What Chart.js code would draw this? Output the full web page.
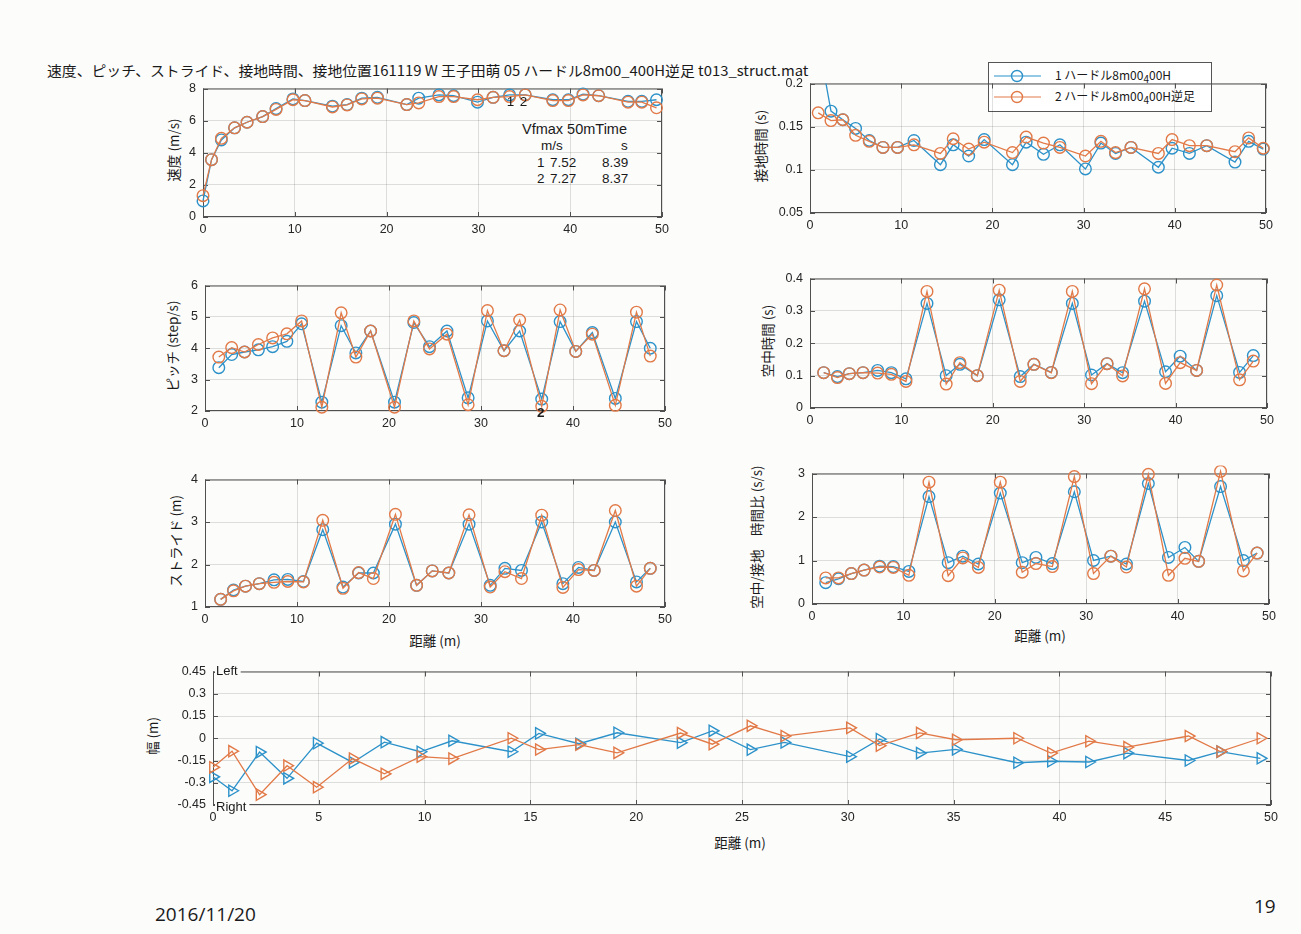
<!DOCTYPE html>
<html>
<head>
<meta charset="utf-8">
<script src="https://cdn.jsdelivr.net/npm/chart.js@4.4.1/dist/chart.umd.min.js"></script>
<style>
  html, body { margin: 0; padding: 0; background: #fcfcfb; }
  body { width: 1301px; height: 934px; position: relative; overflow: hidden;
         font-family: "Noto Sans CJK JP", "Noto Sans", sans-serif; color: #1a1a1a; }
  canvas { position: absolute; }
  .t { position: absolute; white-space: nowrap; }
  .yt { position: absolute; white-space: nowrap; font-size: 13.5px; transform: translate(-50%, -50%) rotate(-90deg); }
  .xt { position: absolute; white-space: nowrap; font-size: 13.5px; transform: translate(-50%, -50%); }
  .num { font-family: "Liberation Sans", Arial, sans-serif; font-size: 13.5px; }
  #title { left: 47px; top: 60px; font-size: 14px; transform-origin: 0 50%; }
  #legend { position: absolute; left: 988px; top: 62px; width: 222px; height: 48px;
            background: #fff; border: 1px solid #555; font-size: 12px; }
  #legend .row { position: absolute; left: 66px; white-space: nowrap; }
</style>
</head>
<body>

<div id="title" class="t">速度、ピッチ、ストライド、接地時間、接地位置161119 W 王子田萌 05 ハードル8m00_400H逆足 t013_struct.mat</div>

<div id="legend">
  <svg width="64" height="48" style="position:absolute;left:0;top:0">
    <line x1="5" y1="13" x2="52" y2="13" stroke="#2d92c9" stroke-width="1.2"/>
    <circle cx="28" cy="13" r="5.5" fill="none" stroke="#2d92c9" stroke-width="1.4"/>
    <line x1="5" y1="34" x2="52" y2="34" stroke="#e27a48" stroke-width="1.2"/>
    <circle cx="28" cy="34" r="5.5" fill="none" stroke="#e27a48" stroke-width="1.4"/>
  </svg>
  <div class="row" style="top:3px">1 ハードル8m00<sub>4</sub>00H</div>
  <div class="row" style="top:24px">2 ハードル8m00<sub>4</sub>00H逆足</div>
</div>

<div class="t num" style="left:522px;top:121px;font-size:14.5px">Vfmax 50mTime</div>
<div class="t num" style="left:541px;top:138px">m/s</div>
<div class="t num" style="left:621px;top:138px">s</div>
<div class="t num" style="left:537px;top:155px">1</div>
<div class="t num" style="left:550px;top:155px">7.52</div>
<div class="t num" style="left:602px;top:155px">8.39</div>
<div class="t num" style="left:537px;top:171px">2</div>
<div class="t num" style="left:550px;top:171px">7.27</div>
<div class="t num" style="left:602px;top:171px">8.37</div>

<div class="yt" style="left:173px;top:150px">速度 (m/s)</div>
<div class="yt" style="left:760px;top:146px">接地時間 (s)</div>
<div class="yt" style="left:172px;top:346px">ピッチ (step/s)</div>
<div class="yt" style="left:767px;top:341px">空中時間 (s)</div>
<div class="yt" style="left:175px;top:541px">ストライド (m)</div>
<div class="yt" style="left:756px;top:537px">空中/接地　時間比 (s/s)</div>
<div class="yt" style="left:152px;top:736px">幅 (m)</div>
<div class="xt" style="left:435px;top:640px">距離 (m)</div>
<div class="xt" style="left:1040px;top:635px">距離 (m)</div>
<div class="xt" style="left:740px;top:842px">距離 (m)</div>

<div class="t" style="left:155px;top:901px;font-size:19px;font-family:'Open Sans',sans-serif">2016/11/20</div>
<div class="t" style="left:1254px;top:893px;font-size:19px;font-family:'Open Sans',sans-serif">19</div>

<script>
// ---------- data (distance in m) ----------
const xTicks10 = [0, 10, 20, 30, 40, 50];
const xTicks5 = [0, 5, 10, 15, 20, 25, 30, 35, 40, 45, 50];

// speed (m/s)
const spdX = [0.0, 0.93, 2.0, 3.44, 4.8, 6.5, 7.96, 9.8, 11.1, 14.1, 15.7, 17.3, 19.0, 22.2, 23.5, 25.7, 27.3, 29.9, 31.6, 33.4, 35.1, 38.1, 39.8, 41.4, 43.1, 46.3, 47.8, 49.4];
const spd1 = [1.0, 3.57, 4.8, 5.55, 5.9, 6.25, 6.75, 7.35, 7.25, 6.9, 7.0, 7.4, 7.45, 7.0, 7.4, 7.6, 7.55, 7.15, 7.45, 7.6, 7.6, 7.3, 7.3, 7.65, 7.55, 7.2, 7.2, 7.3];
const spd2 = [1.33, 3.57, 4.9, 5.55, 5.9, 6.25, 6.7, 7.3, 7.25, 6.85, 6.98, 7.35, 7.4, 7.0, 7.1, 7.5, 7.5, 7.3, 7.45, 7.5, 7.6, 7.25, 7.25, 7.6, 7.55, 7.15, 7.15, 6.8];
const vfMarkX = [33.5, 34.9];
const vfMarkY = [7.15, 7.15];

// contact time (s)
const ctX = [0.9, 2.3, 3.6, 5.0, 6.5, 8.0, 9.6, 11.4, 14.3, 15.7, 17.4, 19.1, 22.2, 23.7, 25.6, 27.4, 30.2, 31.9, 33.5, 35.2, 38.2, 39.7, 41.6, 43.5, 46.6, 48.1, 49.7];
const ct1 = [0.25, 0.168, 0.158, 0.148, 0.134, 0.126, 0.126, 0.134, 0.106, 0.129, 0.116, 0.135, 0.106, 0.132, 0.118, 0.129, 0.101, 0.131, 0.119, 0.126, 0.103, 0.125, 0.119, 0.128, 0.109, 0.133, 0.124];
const ct2 = [0.166, 0.157, 0.158, 0.14, 0.133, 0.126, 0.126, 0.129, 0.119, 0.136, 0.124, 0.132, 0.12, 0.138, 0.131, 0.126, 0.116, 0.133, 0.12, 0.126, 0.119, 0.135, 0.128, 0.128, 0.121, 0.137, 0.125];

// pitch (step/s)
const ptX = [1.5, 2.9, 4.3, 5.8, 7.35, 8.9, 10.5, 12.7, 14.8, 16.4, 18.0, 20.6, 22.7, 24.4, 26.3, 28.6, 30.7, 32.5, 34.2, 36.6, 38.6, 40.3, 42.1, 44.6, 46.9, 48.4];
const pt1 = [3.38, 3.8, 3.88, 3.95, 4.05, 4.22, 4.78, 2.28, 4.72, 3.85, 4.55, 2.28, 4.82, 4.05, 4.55, 2.42, 4.87, 3.92, 4.55, 2.38, 4.85, 3.9, 4.5, 2.4, 4.85, 4.0];
const pt2 = [3.72, 4.02, 3.88, 4.12, 4.33, 4.46, 4.87, 2.12, 5.13, 3.72, 4.55, 2.12, 4.87, 3.98, 4.45, 2.2, 5.2, 3.92, 4.9, 2.15, 5.22, 3.9, 4.45, 2.18, 5.15, 3.75];

// flight time (s)
const flX = [1.5, 3.0, 4.3, 5.8, 7.4, 8.9, 10.5, 12.8, 14.9, 16.4, 18.3, 20.7, 23.0, 24.5, 26.4, 28.7, 30.8, 32.5, 34.2, 36.6, 38.9, 40.5, 42.3, 44.5, 47.0, 48.5];
const fl1 = [0.109, 0.097, 0.106, 0.109, 0.116, 0.109, 0.09, 0.323, 0.1, 0.135, 0.1, 0.334, 0.097, 0.135, 0.11, 0.323, 0.102, 0.137, 0.109, 0.33, 0.112, 0.16, 0.116, 0.347, 0.11, 0.162];
const fl2 = [0.109, 0.094, 0.106, 0.109, 0.108, 0.104, 0.082, 0.36, 0.074, 0.14, 0.1, 0.364, 0.082, 0.135, 0.109, 0.36, 0.075, 0.137, 0.099, 0.368, 0.076, 0.14, 0.116, 0.38, 0.087, 0.145];

// stride (m)
const stX = [1.7, 3.1, 4.4, 5.9, 7.5, 9.0, 10.7, 12.8, 15.0, 16.7, 18.3, 20.7, 23.0, 24.7, 26.5, 28.7, 31.0, 32.6, 34.4, 36.6, 38.9, 40.6, 42.3, 44.6, 46.9, 48.4];
const st1 = [1.18, 1.4, 1.49, 1.55, 1.64, 1.65, 1.6, 2.82, 1.47, 1.8, 1.8, 2.95, 1.51, 1.85, 1.8, 2.95, 1.51, 1.91, 1.86, 3.0, 1.55, 1.93, 1.86, 3.0, 1.59, 1.91];
const st2 = [1.18, 1.38, 1.49, 1.55, 1.58, 1.6, 1.59, 3.04, 1.44, 1.81, 1.67, 3.18, 1.51, 1.85, 1.8, 3.17, 1.47, 1.83, 1.67, 3.16, 1.46, 1.88, 1.86, 3.27, 1.49, 1.91];

// flight / contact ratio (s/s)
const rtX = [1.5, 2.9, 4.3, 5.7, 7.4, 8.9, 10.6, 12.8, 14.9, 16.5, 18.2, 20.6, 23.0, 24.5, 26.3, 28.7, 30.8, 32.7, 34.4, 36.8, 39.0, 40.8, 42.3, 44.7, 47.2, 48.7];
const rt1 = [0.49, 0.58, 0.7, 0.78, 0.87, 0.86, 0.75, 2.47, 0.95, 1.1, 0.92, 2.55, 0.95, 1.07, 0.93, 2.58, 1.0, 1.1, 0.92, 2.77, 1.07, 1.3, 0.98, 2.7, 1.0, 1.17];
const rt2 = [0.6, 0.6, 0.7, 0.78, 0.85, 0.84, 0.66, 2.8, 0.65, 1.06, 0.84, 2.8, 0.73, 0.93, 0.86, 2.93, 0.7, 1.1, 0.85, 2.98, 0.66, 1.05, 0.98, 3.05, 0.76, 1.17];

// lateral foot position (m)
const wdX = [0.0, 0.9, 2.2, 3.5, 4.9, 6.6, 8.1, 9.8, 11.3, 14.1, 15.4, 17.3, 19.1, 22.1, 23.6, 25.4, 27.0, 30.1, 31.5, 33.4, 35.1, 38.0, 39.6, 41.4, 43.2, 46.1, 47.6, 49.5];
const wd1 = [-0.26, -0.354, -0.093, -0.27, -0.033, -0.163, -0.026, -0.091, -0.017, -0.091, 0.033, -0.037, 0.037, -0.03, 0.05, -0.077, -0.028, -0.124, -0.006, -0.1, -0.075, -0.165, -0.155, -0.16, -0.1, -0.15, -0.09, -0.135];
const wd2 = [-0.196, -0.087, -0.38, -0.185, -0.33, -0.137, -0.24, -0.124, -0.137, 0.0, -0.076, -0.043, -0.098, 0.035, -0.04, 0.084, 0.015, 0.07, -0.05, 0.036, -0.01, 0.0, -0.1, -0.02, -0.06, 0.015, -0.09, 0.0];

// ---------- drawing ----------
const BLUE = '#2d92c9', ORANGE = '#e27a48';
const GRID = 'rgba(0,0,0,0.12)';
const TICKF = '"Liberation Sans", Arial, sans-serif';
const fmt = v => String(Math.round(v * 1000) / 1000);

function series(xs, ys, color, tri, order) {
  return {
    data: xs.map((x, i) => ({ x, y: ys[i] })),
    borderColor: color, backgroundColor: 'transparent', borderWidth: 1.3,
    pointStyle: tri ? 'triangle' : 'circle', pointRotation: tri ? 90 : 0,
    pointRadius: tri ? 6.5 : 5.8, pointBorderWidth: 1.4,
    pointBorderColor: color, pointBackgroundColor: 'rgba(0,0,0,0)',
    tension: 0, order
  };
}

const framePlugin = {
  id: 'frame',
  beforeDatasetsDraw(chart) {
    const { ctx, chartArea: a, scales: { x, y } } = chart;
    ctx.save();
    ctx.strokeStyle = '#505050'; ctx.lineWidth = 1;
    ctx.strokeRect(a.left + 0.5, a.top + 0.5, a.width - 1, a.height - 1);
    ctx.beginPath();
    x.ticks.forEach(t => {
      const p = Math.round(x.getPixelForValue(t.value)) + 0.5;
      ctx.moveTo(p, a.bottom); ctx.lineTo(p, a.bottom - 5);
      ctx.moveTo(p, a.top); ctx.lineTo(p, a.top + 5);
    });
    y.ticks.forEach(t => {
      const p = Math.round(y.getPixelForValue(t.value)) + 0.5;
      ctx.moveTo(a.left, p); ctx.lineTo(a.left + 5, p);
      ctx.moveTo(a.right, p); ctx.lineTo(a.right - 5, p);
    });
    ctx.stroke();
    ctx.restore();
  }
};

function textPlugin(items) {
  return {
    id: 'textMarks',
    afterDraw(chart) {
      const { ctx, chartArea: a, scales: { x, y } } = chart;
      items.forEach(it => {
        ctx.save();
        ctx.font = it.font || '13.5px ' + TICKF;
        ctx.fillStyle = '#1a1a1a';
        ctx.textAlign = it.align || 'center';
        ctx.textBaseline = 'middle';
        let px, py;
        if (it.corner) {
          px = a.left + 3;
          py = it.corner === 'top' ? a.top : a.bottom + 2;
          const w = ctx.measureText(it.text).width;
          ctx.fillStyle = '#fcfcfb';
          ctx.fillRect(px - 1, py - 6, w + 4, 12);
          ctx.fillStyle = '#1a1a1a';
        } else {
          px = x.getPixelForValue(it.x);
          py = y.getPixelForValue(it.y);
        }
        ctx.fillText(it.text, px, py);
        ctx.restore();
      });
    }
  };
}

function panel(box, yr, yTicks, xTicks, sets, marks, clip) {
  const ml = 46, mr = 14, mt = 10, mb = 26;
  const w = box[1] - box[0] + ml + mr, h = box[3] - box[2] + mt + mb;
  const cv = document.createElement('canvas');
  cv.width = w; cv.height = h;
  Object.assign(cv.style, { left: (box[0] - ml) + 'px', top: (box[2] - mt) + 'px', width: w + 'px', height: h + 'px' });
  document.body.appendChild(cv);
  sets.forEach(s => { s.clip = clip || { left: 8, right: 8, top: 8, bottom: 8 }; });
  const tickFont = { family: TICKF, size: 12.5 };
  new Chart(cv, {
    type: 'line',
    data: { datasets: sets },
    options: {
      responsive: false, animation: false, events: [],
      layout: { padding: { top: mt, right: mr, left: 0, bottom: 0 }, autoPadding: false },
      plugins: { legend: { display: false }, tooltip: { enabled: false } },
      scales: {
        x: {
          type: 'linear', min: xTicks[0], max: xTicks[xTicks.length - 1],
          afterBuildTicks: s => { s.ticks = xTicks.map(v => ({ value: v })); },
          afterFit: s => { s.height = mb; },
          grid: { color: GRID, drawTicks: false }, border: { display: false },
          ticks: { padding: 5, color: '#262626', font: tickFont, maxRotation: 0, autoSkip: false, callback: fmt }
        },
        y: {
          min: yr[0], max: yr[1],
          afterBuildTicks: s => { s.ticks = yTicks.map(v => ({ value: v })); },
          afterFit: s => { s.width = ml; },
          grid: { color: GRID, drawTicks: false }, border: { display: false },
          ticks: { padding: 7, color: '#262626', font: tickFont, autoSkip: false, callback: fmt }
        }
      }
    },
    plugins: [framePlugin, textPlugin(marks || [])]
  });
}

// speed
panel([203, 662, 84, 217], [0, 8], [0, 2, 4, 6, 8], xTicks10,
  [series(spdX, spd1, BLUE, false, 2), series(spdX, spd2, ORANGE, false, 1)],
  vfMarkX.map((x, i) => ({ x, y: vfMarkY[i], text: String(i + 1) })));

// contact time
panel([810, 1266, 79, 213], [0.05, 0.2], [0.05, 0.1, 0.15, 0.2], xTicks10,
  [series(ctX, ct1, BLUE, false, 2), series(ctX, ct2, ORANGE, false, 1)],
  [], { left: 8, right: 8, top: 0, bottom: 8 });

// pitch
panel([205, 665, 281, 411], [2, 6], [2, 3, 4, 5, 6], xTicks10,
  [series(ptX, pt1, BLUE, false, 2), series(ptX, pt2, ORANGE, false, 1)],
  [{ x: 36.5, y: 1.93, text: '2', font: 'bold 13.5px ' + TICKF }]);

// flight time
panel([810, 1267, 274, 408], [0, 0.4], [0, 0.1, 0.2, 0.3, 0.4], xTicks10,
  [series(flX, fl1, BLUE, false, 2), series(flX, fl2, ORANGE, false, 1)]);

// stride
panel([205, 665, 475, 607], [1, 4], [1, 2, 3, 4], xTicks10,
  [series(stX, st1, BLUE, false, 2), series(stX, st2, ORANGE, false, 1)]);

// ratio
panel([812, 1269, 469, 604], [0, 3], [0, 1, 2, 3], xTicks10,
  [series(rtX, rt1, BLUE, false, 2), series(rtX, rt2, ORANGE, false, 1)]);

// lateral position
panel([213, 1271, 667, 805], [-0.45, 0.45], [-0.45, -0.3, -0.15, 0, 0.15, 0.3, 0.45], xTicks5,
  [series(wdX, wd1, BLUE, true, 2), series(wdX, wd2, ORANGE, true, 1)],
  [{ corner: 'top', text: 'Left', align: 'left', font: '13px ' + TICKF },
   { corner: 'bottom', text: 'Right', align: 'left', font: '13px ' + TICKF }]);

// fit the title line to the width it has in the picture
const title = document.getElementById('title');
title.style.transform = 'scaleX(' + (761 / title.offsetWidth) + ')';
</script>
</body>
</html>
